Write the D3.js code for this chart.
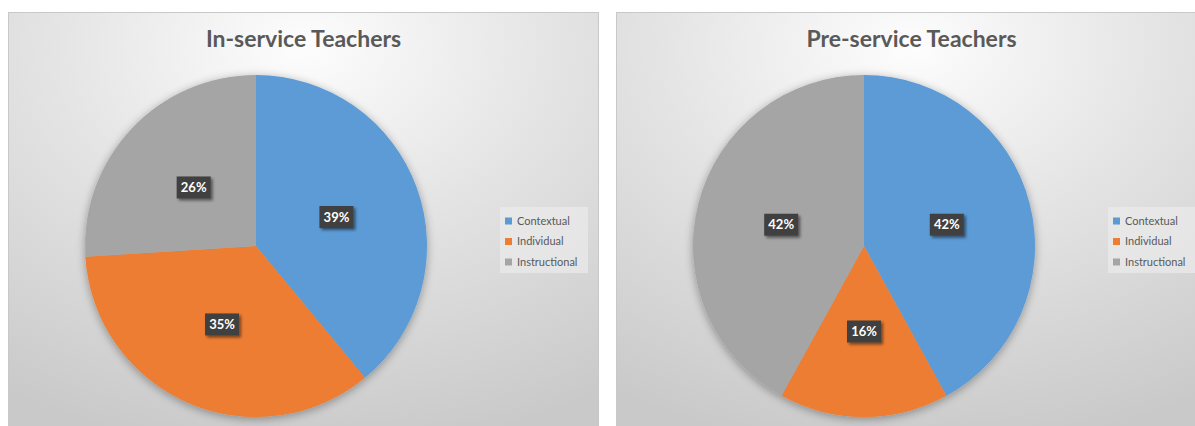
<!DOCTYPE html>
<html>
<head>
<meta charset="utf-8">
<script src="https://cdn.jsdelivr.net/npm/d3@7"></script>
<style>
  html, body { margin: 0; padding: 0; background: #fff; }
  svg { display: block; }
  .title { font-family: Lato, "Open Sans", sans-serif; font-weight: 700; fill: #595959; }
  .legend text { font-family: Lato, "Open Sans", sans-serif; font-size: 11px; fill: #595959; }
  .dlabel { font-family: Lato, "Open Sans", sans-serif; font-weight: 700; font-size: 13px; fill: #fff; }
</style>
</head>
<body>
<svg id="chart" width="1195" height="426"></svg>
<script>
// two Excel-style pie panels, same categories, different groups
const categories = ['Contextual', 'Individual', 'Instructional'];
const colors = ['#5b9bd5', '#ed7d31', '#a5a5a5'];
const titles = ['In-service Teachers', 'Pre-service Teachers'];
const inService = [39, 35, 26];
const preService = [42, 16, 42];

(function () {
  const svg = d3.select('#chart');
  const defs = svg.append('defs');

  const bg = defs.append('radialGradient').attr('id', 'panelBg')
    .attr('cx', '50%').attr('cy', '8%').attr('r', '95%');
  bg.append('stop').attr('offset', '0%').attr('stop-color', '#fdfdfd');
  bg.append('stop').attr('offset', '45%').attr('stop-color', '#e4e4e4');
  bg.append('stop').attr('offset', '100%').attr('stop-color', '#c9c9c9');

  const pieShadow = defs.append('filter').attr('id', 'pieShadow')
    .attr('x', '-20%').attr('y', '-20%').attr('width', '140%').attr('height', '140%');
  pieShadow.append('feGaussianBlur').attr('in', 'SourceAlpha').attr('stdDeviation', 5).attr('result', 'b');
  pieShadow.append('feOffset').attr('in', 'b').attr('dx', 0).attr('dy', 2).attr('result', 'o');
  pieShadow.append('feComponentTransfer').attr('in', 'o').attr('result', 's')
    .append('feFuncA').attr('type', 'linear').attr('slope', 0.35);
  const m1 = pieShadow.append('feMerge');
  m1.append('feMergeNode').attr('in', 's');
  m1.append('feMergeNode').attr('in', 'SourceGraphic');

  const boxShadow = defs.append('filter').attr('id', 'boxShadow')
    .attr('x', '-30%').attr('y', '-30%').attr('width', '170%').attr('height', '170%');
  boxShadow.append('feGaussianBlur').attr('in', 'SourceAlpha').attr('stdDeviation', 1.5).attr('result', 'b');
  boxShadow.append('feOffset').attr('in', 'b').attr('dx', 2).attr('dy', 2).attr('result', 'o');
  boxShadow.append('feComponentTransfer').attr('in', 'o').attr('result', 's')
    .append('feFuncA').attr('type', 'linear').attr('slope', 0.5);
  const m2 = boxShadow.append('feMerge');
  m2.append('feMergeNode').attr('in', 's');
  m2.append('feMergeNode').attr('in', 'SourceGraphic');

  const panelW = 590, panelH = 430, radius = 171;
  const color = d3.scaleOrdinal().domain(categories).range(colors);
  const pie = d3.pie().sort(null).value((d) => d.value);
  const arc = d3.arc().innerRadius(0).outerRadius(radius);

  function drawPanel(x0, title, values) {
    const g = svg.append('g').attr('transform', `translate(${x0},12)`);
    g.append('rect').attr('x', 0.5).attr('y', 0.5).attr('width', panelW).attr('height', panelH)
      .attr('fill', 'url(#panelBg)').attr('stroke', '#c8c8c8');

    g.append('text').attr('class', 'title')
      .attr('x', panelW / 2 + 0.5).attr('y', 35)
      .attr('text-anchor', 'middle').attr('font-size', 23)
      .text(title);

    const data = categories.map((c, i) => ({ cat: c, value: values[i] }));
    const arcs = pie(data);
    const pg = g.append('g').attr('transform', `translate(248,234)`);

    pg.append('g').attr('filter', 'url(#pieShadow)')
      .selectAll('path').data(arcs).join('path')
      .attr('d', arc).attr('fill', (d) => color(d.data.cat));

    // data labels: dark callout boxes at slice centroids
    const lab = pg.selectAll('g.lab').data(arcs).join('g').attr('class', 'lab')
      .attr('transform', (d) => `translate(${arc.centroid(d)})`);
    lab.append('rect').attr('x', -17).attr('y', -11).attr('width', 34).attr('height', 22)
      .attr('fill', '#404040').attr('filter', 'url(#boxShadow)');
    lab.append('text').attr('class', 'dlabel').attr('text-anchor', 'middle').attr('dy', '0.36em')
      .text((d) => d.data.value + '%');

    // legend
    const lg = g.append('g').attr('class', 'legend').attr('transform', 'translate(492,195)');
    lg.append('rect').attr('width', 88).attr('height', 66).attr('fill', '#ebebeb').attr('opacity', 0.7);
    const row = lg.selectAll('g.row').data(categories).join('g').attr('class', 'row')
      .attr('transform', (d, i) => `translate(5,${14 + i * 20.5})`);
    row.append('rect').attr('x', 0).attr('y', -3.5).attr('width', 7).attr('height', 7)
      .attr('fill', (d) => color(d));
    row.append('text').attr('x', 12).attr('dy', '0.35em').text((d) => d);
  }

  drawPanel(8, titles[0], inService);
  drawPanel(616, titles[1], preService);
})();
</script>
</body>
</html>
